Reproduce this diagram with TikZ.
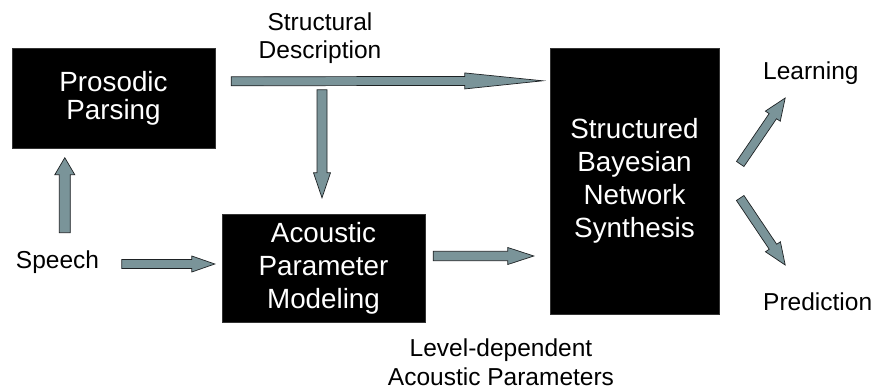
\documentclass[tikz,border=0pt]{standalone}
\usepackage{fontspec}
\setmainfont{Liberation Sans}
\usetikzlibrary{calc}
\definecolor{arrowfill}{RGB}{122,148,153}
\definecolor{arrowline}{RGB}{30,34,36}

% Block arrow from #1 to #2: shaft half-width #3, head half-width #4, head length #5
\newcommand{\blockarrow}[5]{%
  \coordinate (ba-a) at #1;
  \coordinate (ba-b) at #2;
  \coordinate (ba-c) at ($(ba-b)!#5!(ba-a)$);
  \draw[blockarrowstyle]
    ($(ba-a)!#3!90:(ba-b)$) -- ($(ba-c)!#3!90:(ba-b)$) -- ($(ba-c)!#4!90:(ba-b)$)
    -- (ba-b)
    -- ($(ba-c)!#4!-90:(ba-b)$) -- ($(ba-c)!#3!-90:(ba-b)$) -- ($(ba-a)!#3!-90:(ba-b)$)
    -- cycle;
}

\begin{document}
\begin{tikzpicture}[x=1pt, y=-1pt,
  blockarrowstyle/.style={fill=arrowfill, draw=arrowline, line width=0.7pt, line join=miter},
  box/.style={fill=black, draw=black!80, text=white, align=center, inner sep=0pt,
              font=\fontsize{27.8}{33}\selectfont},
  lbl/.style={text=black, align=center, inner sep=0pt,
              font=\fontsize{24.5}{28.5}\selectfont}]
\useasboundingbox (0,0) rectangle (875,391);

% processing blocks
\node[box, minimum width=203pt, minimum height=100pt,
      font=\fontsize{27.8}{28}\selectfont] (pp) at (113.5,98.5) {Prosodic\\Parsing};
\node[box, minimum width=203pt, minimum height=108pt] (apm) at (323.5,268) {Acoustic\\Parameter\\Modeling};
\node[box, minimum width=169pt, minimum height=266pt] (sbn) at (634.5,181) {Structured\\Bayesian\\Network\\Synthesis};

% plain labels
\node[lbl, anchor=base] (speech) at (57.5,268) {Speech};
\node[lbl, anchor=base west] (learn) at (763,79) {Learning};
\node[lbl, anchor=base west] (pred) at (763,310) {Prediction};
\node[lbl] (sdesc) at (320,38) {Structural\\Description};
\node[lbl] (ldep) at (501,362) {Level-dependent\\Acoustic Parameters};

% connectors
\blockarrow{($(pp.north east)+(16,33)$)}{($(sbn.north west)+(-7,33)$)}{4.5pt}{8pt}{78pt}
\blockarrow{($(apm.north)+(-1.5,-124)$)}{($(apm.north)+(-1.5,-16)$)}{5pt}{8.5pt}{25pt}
\blockarrow{($(pp.south west)+(53,84)$)}{($(pp.south west)+(53,9)$)}{5.5pt}{10pt}{17pt}
\blockarrow{($(apm.west)+(-100,-4)$)}{($(apm.west)+(-7,-4)$)}{4.5pt}{8pt}{23pt}
\blockarrow{($(apm.east)+(8,-12)$)}{($(sbn.west)+(-16,75)$)}{4.7pt}{8.5pt}{26pt}
\blockarrow{($(sbn.east)+(21,-17)$)}{($(sbn.east)+(66,-83)$)}{4.5pt}{9pt}{22pt}
\blockarrow{($(sbn.east)+(21,17)$)}{($(sbn.east)+(66,84)$)}{4.5pt}{9pt}{22pt}
\end{tikzpicture}
\end{document}
